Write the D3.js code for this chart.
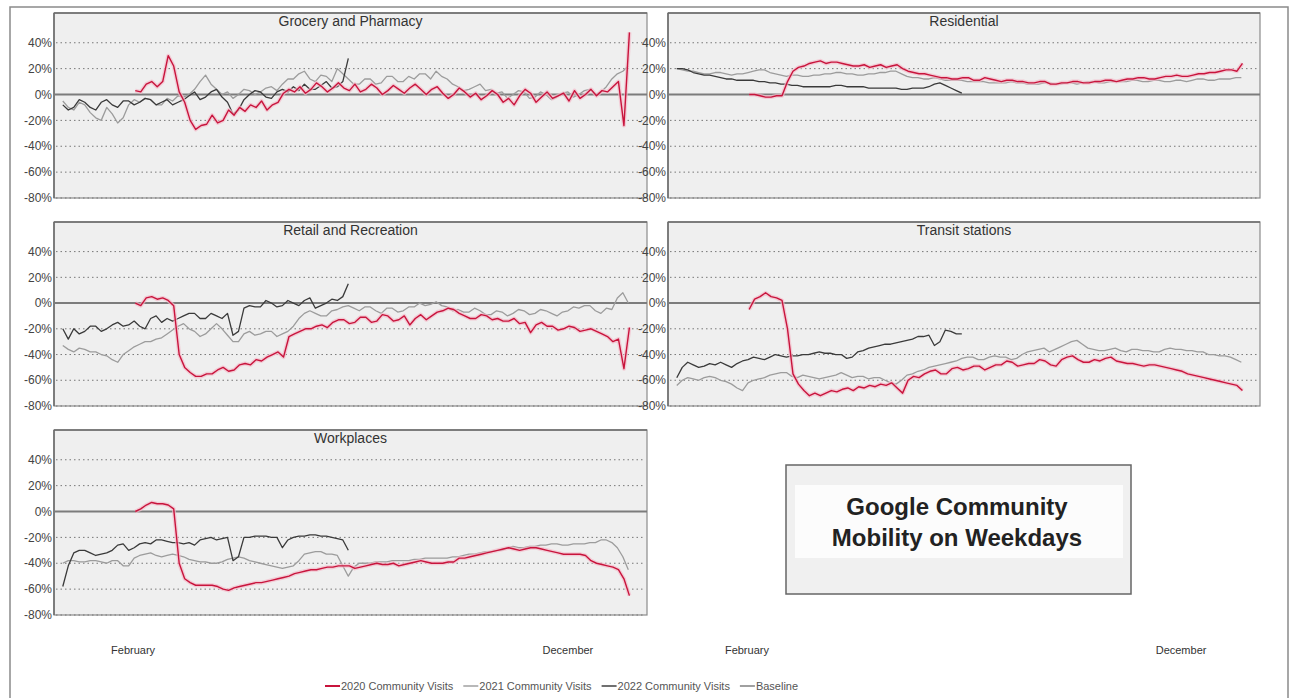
<!DOCTYPE html>
<html><head><meta charset="utf-8">
<script src="https://cdn.jsdelivr.net/npm/d3@7"></script>
<style>
body{margin:0;background:#fff;}
svg{display:block;font-family:"Liberation Sans",Arial,sans-serif;}
</style>
</head><body>
<svg id="chart" width="1297" height="698"></svg>
<script>
// ---------------- DATA ----------------
const categories = ["Grocery and Pharmacy","Residential","Retail and Recreation","Transit stations","Workplaces"];
const seriesNames = ["2020 Community Visits","2021 Community Visits","2022 Community Visits","Baseline"];
const yTicks = [40,20,0,-20,-40,-60,-80];
const xTickIdx = [32, 230];          // weekday index of the month labels
const xTickLabels = ["February","December"];
const boxTitle = ["Google Community","Mobility on Weekdays"];

// samples every 2.5 weekdays; first sample's weekday index per year
const sampleStep = 2.5;
const start2020 = 33, start2021 = 0, start2022 = 0;
const idxBaseline = [-4, 266];
const baselineVals = [0, 0];

const grocery2020 = [
  3,2,8,10,6,10,30,22,2,-6,
  -20,-27,-24,-23,-16,-22,-20,-12,-16,-10,
  -13,-8,-10,-5,-12,-8,-6,1,4,2,
  6,1,4,9,6,2,5,9,5,3,
  8,2,4,8,5,0,3,7,4,1,
  5,8,4,0,4,6,1,-3,0,5,
  2,-2,1,-4,-1,3,0,-6,-3,-8,
  -1,4,1,-6,-2,2,-3,-1,1,-5,
  3,-3,0,4,-1,3,2,6,10,-24,
  48];
const grocery2021 = [
  -5,-10,-12,-6,-8,-14,-18,-20,-10,-15,
  -22,-18,-8,-4,-6,-3,-4,-8,-8,-3,
  -5,-1,-2,0,4,10,15,8,4,0,
  2,-3,0,4,3,0,2,5,6,3,
  8,12,12,16,18,12,10,15,14,10,
  20,16,12,8,8,12,12,8,9,14,
  14,10,10,14,12,16,16,12,18,14,
  12,8,6,3,4,6,8,3,4,1,
  2,-3,0,3,2,-3,-2,2,0,-4,
  -2,1,2,-2,0,3,4,0,2,6,
  12,16,18,22];
const grocery2022 = [
  -8,-12,-10,-4,-6,-10,-12,-6,-4,-8,
  -10,-5,-5,-8,-6,-3,-4,-8,-6,-4,
  -8,-6,-4,-1,2,-4,-2,2,4,-2,
  -6,-15,-12,-4,0,3,2,-2,-3,2,
  4,2,6,3,8,4,4,7,10,5,
  6,10,28];

const residential2020 = [
  0,0,-1,-2,-2,-1,-1,10,18,21,
  22,24,25,26,24,25,25,24,23,22,
  22,23,21,22,23,21,22,23,20,18,
  17,16,16,15,14,13,13,12,12,13,
  13,11,11,13,12,11,10,11,11,10,
  10,9,9,10,10,8,8,9,9,10,
  10,9,9,10,10,11,11,10,11,12,
  12,13,13,12,12,13,14,14,15,14,
  14,15,16,16,17,17,18,19,19,18,
  24];
const residential2021 = [
  20,19,18,18,17,16,16,17,17,16,
  15,16,16,17,18,19,19,17,16,15,
  14,15,15,14,14,15,15,16,16,17,
  17,16,16,15,15,16,16,17,17,18,
  18,16,14,13,13,12,12,13,12,11,
  11,11,11,10,10,10,10,9,9,9,
  9,10,9,9,8,8,8,9,9,8,
  8,9,9,8,9,10,10,9,9,10,
  10,10,10,11,11,10,10,11,11,10,
  10,11,11,10,11,12,12,11,11,12,
  12,12,13,13];
const residential2022 = [
  20,20,19,17,16,15,15,14,13,12,
  12,11,11,11,11,10,10,9,9,8,
  8,7,7,6,6,6,6,6,6,7,
  7,6,6,6,6,5,5,5,5,5,
  5,4,4,5,5,5,6,8,9,7,
  5,3,1];

const retail2020 = [
  0,-2,4,5,3,4,2,-2,-40,-50,
  -54,-57,-57,-55,-55,-52,-50,-53,-52,-48,
  -47,-48,-44,-45,-42,-40,-38,-42,-26,-24,
  -22,-20,-20,-18,-17,-19,-15,-13,-13,-16,
  -15,-11,-11,-15,-14,-9,-10,-14,-13,-10,
  -17,-12,-9,-13,-10,-7,-6,-4,-5,-8,
  -10,-12,-12,-9,-10,-13,-12,-14,-14,-12,
  -16,-15,-23,-17,-15,-18,-18,-21,-20,-18,
  -19,-22,-21,-20,-22,-24,-26,-30,-28,-51,
  -19];
const retail2021 = [
  -33,-36,-38,-35,-36,-38,-38,-40,-41,-44,
  -46,-40,-37,-34,-32,-30,-30,-28,-27,-24,
  -21,-18,-16,-20,-22,-26,-24,-20,-16,-20,
  -25,-30,-30,-24,-22,-25,-24,-22,-22,-26,
  -24,-22,-18,-12,-8,-6,-8,-10,-10,-6,
  -5,-3,-2,-4,-6,-3,-3,-6,-8,-4,
  -4,-7,-6,-3,-3,0,-2,-1,1,-2,
  -3,-6,-5,-7,-7,-4,-6,-9,-9,-6,
  -7,-10,-8,-5,-6,-9,-8,-5,-6,-8,
  -10,-7,-6,-3,-4,-2,-2,-6,-8,-4,
  -5,4,8,0];
const retail2022 = [
  -20,-28,-20,-24,-22,-18,-18,-22,-20,-17,
  -15,-18,-17,-14,-18,-20,-12,-10,-15,-12,
  -14,-12,-10,-8,-8,-12,-12,-8,-10,-12,
  -8,-25,-22,-4,-2,-3,-3,2,0,-3,
  -2,2,0,-2,2,4,-4,-2,0,3,
  2,5,15];

const transit2020 = [
  -5,3,5,8,5,4,2,-20,-55,-63,
  -68,-72,-70,-72,-70,-68,-69,-67,-66,-68,
  -65,-66,-64,-65,-63,-64,-62,-66,-70,-60,
  -57,-58,-55,-53,-52,-55,-55,-51,-50,-52,
  -51,-49,-49,-52,-50,-48,-48,-45,-46,-49,
  -48,-47,-47,-44,-45,-48,-49,-44,-42,-41,
  -44,-46,-46,-44,-45,-43,-42,-45,-46,-47,
  -47,-48,-49,-48,-48,-49,-50,-51,-52,-53,
  -55,-56,-57,-58,-59,-60,-61,-62,-63,-64,
  -68];
const transit2021 = [
  -64,-60,-58,-59,-60,-58,-57,-58,-60,-61,
  -63,-66,-68,-62,-60,-59,-58,-56,-55,-54,
  -54,-57,-58,-56,-57,-58,-59,-58,-57,-56,
  -54,-56,-58,-57,-57,-59,-58,-58,-60,-62,
  -63,-60,-56,-55,-53,-52,-50,-49,-48,-47,
  -46,-45,-43,-42,-42,-44,-44,-42,-41,-42,
  -42,-44,-43,-40,-38,-37,-36,-35,-38,-36,
  -34,-32,-30,-29,-32,-35,-36,-37,-37,-36,
  -35,-37,-38,-36,-36,-37,-37,-38,-38,-36,
  -35,-36,-36,-37,-37,-38,-38,-40,-40,-41,
  -41,-42,-44,-46];
const transit2022 = [
  -58,-50,-46,-48,-50,-49,-47,-48,-46,-48,
  -50,-47,-45,-44,-42,-43,-44,-42,-40,-41,
  -42,-41,-41,-40,-40,-39,-38,-39,-39,-40,
  -40,-43,-42,-38,-37,-35,-34,-33,-32,-32,
  -31,-30,-29,-28,-26,-26,-25,-33,-30,-21,
  -22,-24,-24];

const workplaces2020 = [
  0,2,5,7,6,6,5,2,-40,-52,
  -55,-57,-57,-57,-57,-58,-60,-61,-59,-58,
  -57,-56,-55,-55,-54,-53,-52,-51,-50,-48,
  -47,-46,-45,-45,-44,-43,-43,-42,-42,-42,
  -44,-43,-42,-41,-40,-41,-41,-40,-42,-41,
  -40,-39,-38,-39,-40,-40,-40,-39,-39,-36,
  -36,-35,-34,-33,-32,-31,-30,-29,-28,-29,
  -30,-29,-28,-28,-29,-30,-31,-32,-33,-33,
  -33,-33,-34,-38,-40,-41,-42,-43,-45,-52,
  -65];
const workplaces2021 = [
  -40,-38,-38,-39,-39,-38,-38,-39,-40,-38,
  -38,-42,-42,-36,-34,-33,-32,-34,-35,-34,
  -33,-34,-35,-37,-38,-39,-39,-40,-40,-39,
  -37,-36,-35,-36,-38,-39,-40,-41,-42,-43,
  -44,-43,-42,-38,-33,-32,-31,-31,-33,-33,
  -34,-42,-50,-43,-40,-40,-40,-39,-39,-39,
  -38,-38,-38,-38,-37,-37,-36,-36,-36,-36,
  -36,-35,-35,-34,-33,-33,-32,-31,-31,-30,
  -30,-28,-27,-28,-28,-27,-27,-26,-26,-25,
  -25,-26,-26,-25,-25,-25,-24,-24,-22,-22,
  -24,-28,-35,-45];
const workplaces2022 = [
  -58,-42,-32,-30,-30,-32,-34,-33,-32,-30,
  -26,-25,-30,-28,-25,-24,-25,-22,-22,-23,
  -24,-24,-25,-24,-26,-22,-21,-20,-22,-21,
  -20,-38,-35,-20,-20,-19,-19,-19,-20,-20,
  -28,-22,-20,-19,-19,-18,-18,-19,-19,-20,
  -21,-22,-30];

// ---------------- LAYOUT / STYLE ----------------
const colors = {y2020:"#c8143c", halo:"#f3bccb", y2021:"#9c9c9c", y2022:"#3a3a3a", base:"#7c7c7c"};
const cols = [{x0:54,x1:647},{x0:668,x1:1260}];
const rows = [{y0:13,y1:198},{y0:222,y1:406},{y0:430,y1:615}];
const panels = [
  {name:categories[0], r:0, c:0, s20:grocery2020, s21:grocery2021, s22:grocery2022},
  {name:categories[1], r:0, c:1, s20:residential2020, s21:residential2021, s22:residential2022},
  {name:categories[2], r:1, c:0, s20:retail2020, s21:retail2021, s22:retail2022},
  {name:categories[3], r:1, c:1, s20:transit2020, s21:transit2021, s22:transit2022},
  {name:categories[4], r:2, c:0, s20:workplaces2020, s21:workplaces2021, s22:workplaces2022}
];
const withIdx = (vals, start) => vals.map((v,i) => [start + i*sampleStep, v]);

const svg = d3.select("#chart");

// outer frame
svg.append("rect").attr("x",10).attr("y",7).attr("width",1278).attr("height",700)
  .attr("fill","none").attr("stroke","#8a8a8a").attr("stroke-width",1.5);

const xScales = cols.map(c => d3.scaleLinear().domain([-4,266]).range([c.x0,c.x1]));

panels.forEach(p => {
  const c = cols[p.c], r = rows[p.r];
  const x = xScales[p.c];
  const y = d3.scaleLinear().domain([-80,63]).range([r.y1, r.y0]);
  const g = svg.append("g");
  g.append("rect").attr("x",c.x0).attr("y",r.y0).attr("width",c.x1-c.x0).attr("height",r.y1-r.y0)
    .attr("fill","#efefef").attr("stroke","#8a8a8a").attr("stroke-width",1.2);
  g.append("line").attr("x1",c.x0).attr("x2",c.x1).attr("y1",r.y0).attr("y2",r.y0).attr("stroke","#6a6a6a").attr("stroke-width",1.5);
  g.append("line").attr("x1",c.x0).attr("x2",c.x0).attr("y1",r.y0).attr("y2",r.y1).attr("stroke","#6a6a6a").attr("stroke-width",1.5);
  // dotted grid
  g.selectAll(".grid").data(yTicks.filter(t=>t!==0)).join("line")
    .attr("x1",c.x0+2).attr("x2",c.x1-2).attr("y1",d=>y(d)).attr("y2",d=>y(d))
    .attr("stroke","#777").attr("stroke-width",1).attr("stroke-dasharray","1.5,3");
  // y axis labels
  g.selectAll(".yl").data(yTicks).join("text")
    .attr("x",c.x0-2).attr("y",d=>y(d)).attr("dy","0.35em").attr("text-anchor","end")
    .attr("font-size",12).attr("fill","#444").text(d=>d+"%");
  // title
  g.append("text").attr("x",(c.x0+c.x1)/2).attr("y",r.y0+13).attr("text-anchor","middle")
    .attr("font-size",14).attr("fill","#333").text(p.name);
  const line = d3.line().x(d=>x(d[0])).y(d=>y(d[1]));
  g.append("path").attr("d",line(d3.zip(idxBaseline,baselineVals)))
    .attr("fill","none").attr("stroke",colors.base).attr("stroke-width",2);
  g.append("path").attr("d",line(withIdx(p.s21,start2021)))
    .attr("fill","none").attr("stroke",colors.y2021).attr("stroke-width",1.3).attr("stroke-linejoin","round");
  g.append("path").attr("d",line(withIdx(p.s22,start2022)))
    .attr("fill","none").attr("stroke",colors.y2022).attr("stroke-width",1.3).attr("stroke-linejoin","round");
  g.append("path").attr("d",line(withIdx(p.s20,start2020)))
    .attr("fill","none").attr("stroke",colors.halo).attr("stroke-width",4).attr("stroke-linejoin","round").attr("opacity",0.7);
  g.append("path").attr("d",line(withIdx(p.s20,start2020)))
    .attr("fill","none").attr("stroke",colors.y2020).attr("stroke-width",1.4).attr("stroke-linejoin","round");
});

// month labels under both columns
xScales.forEach(x => {
  svg.selectAll(null).data(xTickIdx).join("text")
    .attr("x",d=>x(d)).attr("y",654).attr("text-anchor","middle")
    .attr("font-size",11).attr("fill","#333")
    .text((d,i)=>xTickLabels[i]);
});

// title box
const bx = svg.append("g");
bx.append("rect").attr("x",786).attr("y",465).attr("width",345).attr("height",129)
  .attr("fill","#f0f0f0").attr("stroke","#666").attr("stroke-width",1.5);
bx.append("rect").attr("x",795).attr("y",485).attr("width",328).attr("height",73).attr("fill","#fcfcfc");
bx.selectAll(null).data(boxTitle).join("text")
  .attr("x",957).attr("y",(d,i)=>515+i*31).attr("text-anchor","middle")
  .attr("font-size",24).attr("font-weight","bold").attr("fill","#222").text(d=>d);

// legend
const legColors = [colors.y2020, "#b8b8b8", "#707070", "#a0a0a0"];
const lg = svg.append("g");
const items = lg.selectAll("g").data(seriesNames).join("g");
items.append("line").attr("x1",0).attr("x2",15).attr("y1",0).attr("y2",0)
  .attr("stroke",(d,i)=>legColors[i]).attr("stroke-width",2);
items.append("text").attr("x",16).attr("y",0).attr("dy","0.35em")
  .attr("font-size",11).attr("fill","#555").text(d=>d);
let widths = [];
items.each(function(){ widths.push(16 + d3.select(this).select("text").node().getComputedTextLength()); });
const gap = 10;
let cx = 325;
items.attr("transform",(d,i)=>{ const t = `translate(${cx},686)`; cx += widths[i]+gap; return t; });
</script>
</body></html>
